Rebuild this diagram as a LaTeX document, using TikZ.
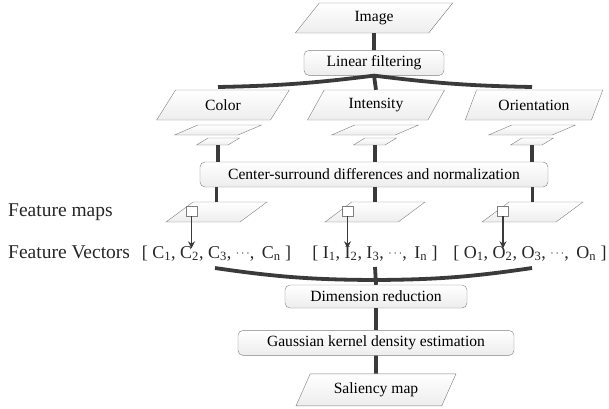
\documentclass[tikz,border=0pt]{standalone}
\usepackage{fontspec}
\setmainfont{Liberation Serif}
\usetikzlibrary{shapes.geometric, arrows.meta, positioning}
\definecolor{edge}{HTML}{7F7F7F}
\definecolor{ink}{HTML}{3A3A3A}
\definecolor{pale}{HTML}{EDEDED}
\newcommand{\boxfont}{\fontsize{15.6}{18}\selectfont}
\newcommand{\labfont}{\fontsize{19.5}{22}\selectfont}
\newcommand{\vecfont}{\fontsize{18}{20}\selectfont}
\newcommand{\sub}[1]{\textsubscript{#1}}
\newcommand{\dts}{\raisebox{2pt}{\fontsize{12}{12}\selectfont$\cdots$}}
\tikzset{
  box/.style={rectangle, draw=edge, top color=white, bottom color=pale, rounded corners=5pt, align=center, inner sep=0pt, font=\boxfont},
  para/.style={trapezium, trapezium left angle=60, trapezium right angle=120, trapezium stretches=true, draw=edge, top color=white, bottom color=pale, inner sep=1pt, font=\boxfont},
  cell/.style={rectangle, draw=edge, fill=white, minimum width=11pt, minimum height=10pt, inner sep=0pt},
  link/.style={draw=ink, line width=3.8pt},
  arrow/.style={-{Stealth[length=7pt, width=7pt]}, draw=ink, line width=1.4pt},
  lab/.style={font=\labfont, inner sep=0pt, text=black!85},
  vec/.style={font=\vecfont, inner sep=0pt, text=black!85, anchor=base},
}

\begin{document}
\begin{tikzpicture}[x=1pt, y=-1pt, node distance=10pt]
  \useasboundingbox (0,0) rectangle (609,408);
  % input and filtering
  \node[para, minimum width=158pt, minimum height=30pt] (img) at (374,18) {Image};
  \node[box, minimum width=140pt, minimum height=25pt, below=17pt of img] (lin) {Linear filtering};
  % three channels
  \node[para, minimum width=133pt, minimum height=30pt] (col) at (223,105) {Color};
  \node[para, minimum width=138pt, minimum height=30pt] (int) at (376,105) {Intensity};
  \node[para, minimum width=138pt, minimum height=30pt] (ori) at (534,105) {Orientation};
  \foreach \n/\x in {col/218, int/375, ori/532} {
    \node[para, minimum width=87pt, minimum height=10pt] (\n a) at (\x,130) {};
    \node[para, minimum width=43pt, minimum height=7pt] (\n b) at (\x,141.5) {};
  }
  \node[box, minimum width=348pt, minimum height=25pt] (csd) at (374,174.5) {Center-surround differences and normalization};
  % feature maps
  \node[lab, anchor=west] (fmlab) at (8,212) {Feature maps};
  \node[para, minimum width=101pt, minimum height=20pt] (fm1) at (216.5,212) {};
  \node[para, minimum width=100pt, minimum height=20pt] (fm2) at (375,212) {};
  \node[para, minimum width=101pt, minimum height=20pt] (fm3) at (532.5,212) {};
  \node[cell] (sq1) at (191.5,211) {};
  \node[cell] (sq2) at (347.5,211) {};
  \node[cell] (sq3) at (503,211) {};
  % feature vectors
  \node[lab, anchor=base west] (fvlab) at (8,258) {Feature Vectors};
  \node[vec] (cvec) at (216.5,258) {[ C\sub{1}, C\sub{2}, C\sub{3}, \dts,\ \,C\sub{n} ]};
  \node[vec] (ivec) at (375,258) {[ I\sub{1}, I\sub{2}, I\sub{3}, \dts,\ \,I\sub{n} ]};
  \node[vec] (ovec) at (530,258) {[ O\sub{1}, O\sub{2}, O\sub{3}, \dts,\ \,O\sub{n} ]};
  % reduction and estimation
  \node[box, minimum width=182pt, minimum height=23pt] (dim) at (376,296.5) {Dimension reduction};
  \node[box, minimum width=276pt, minimum height=25pt, below=22pt of dim] (kde) {Gaussian kernel density estimation};
  \node[para, minimum width=160pt, minimum height=32pt, below=18pt of kde] (sal) {Saliency map};

  \coordinate (brl) at (218,87);
  \coordinate (brr) at (532,87);
  \coordinate (mgl) at (215,268);
  \coordinate (mgr) at (532,268);
  \coordinate (mgj) at (375,280);
  \coordinate (mgt) at (375,267);

  \draw[link] (img) -- (lin);
  \draw[link] (lin.south) to[bend left=3] (brl);
  \draw[link] (lin.south) to[bend right=3] (brr);
  \draw[link] (lin.south) -- (int.north);
  \foreach \n in {col, int, ori} {
    \draw[link] (\n b.south) -- (\n b.south |- csd.north);
  }
  \draw[link] (fm1.north |- csd.south) -- (fm1.north);
  \draw[link] (fm2.north |- csd.south) -- (fm2.north);
  \draw[link] (fm3.north |- csd.south) -- (fm3.north);
  \foreach \i/\v in {1/cvec, 2/ivec, 3/ovec} {
    \draw[arrow] (sq\i.south) -- ([yshift=-3pt]sq\i.south |- \v.north);
  }
  \draw[link] (mgl) to[bend right=4] (mgj);
  \draw[link] (mgr) to[bend left=4] (mgj);
  \draw[link] (mgt) -- (dim.north);
  \draw[link] (dim) -- (kde);
  \draw[link] (kde) -- (sal);
\end{tikzpicture}
\end{document}
